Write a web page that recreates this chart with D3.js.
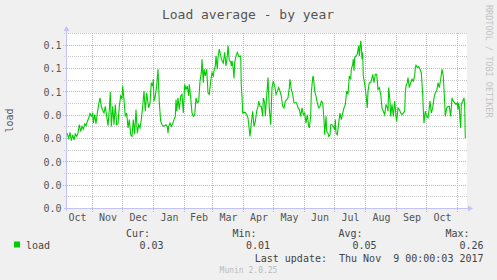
<!DOCTYPE html>
<html>
<head>
<meta charset="utf-8">
<script src="https://cdn.jsdelivr.net/npm/d3@7"></script>
<style>
  html, body { margin: 0; padding: 0; background: #f0f0f0; }
  svg { display: block; font-family: "DejaVu Sans Mono", monospace; }
  text { white-space: pre; }
</style>
</head>
<body>
<div id="chart"></div>
<script>
// Load series: [days since 2016-10-06, load]
const loadSeries = [
  [0.5,0.0323],[2.2,0.0301],[3.5,0.0326],[4.8,0.0291],[6.2,0.0316],[7.5,0.0294],[8.8,0.0320],[10.2,0.0309],[11.5,0.0323],[12.8,0.0359],
  [14.2,0.0330],[15.5,0.0352],[16.8,0.0340],[18.2,0.0363],[19.5,0.0355],[20.8,0.0373],[22.2,0.0388],[23.5,0.0407],[24.8,0.0395],[26.2,0.0407],
  [26.8,0.0366],[28.2,0.0402],[29.5,0.0363],[30.8,0.0409],[32.2,0.0446],[33.5,0.0474],[34.8,0.0438],[36.2,0.0421],[37.5,0.0409],[38.8,0.0438],
  [40.2,0.0395],[41.5,0.0355],[42.8,0.0424],[43.8,0.0499],[44.8,0.0352],[46.2,0.0438],[47.5,0.0359],[48.8,0.0446],[50.2,0.0359],[51.5,0.0363],
  [52.8,0.0438],[54.2,0.0482],[55.5,0.0470],[56.2,0.0525],[57.5,0.0467],[58.8,0.0395],[60.2,0.0409],[61.5,0.0345],[62.8,0.0381],[64.2,0.0316],
  [65.5,0.0309],[66.8,0.0381],[68.2,0.0320],[69.5,0.0424],[70.8,0.0323],[72.2,0.0359],[73.5,0.0345],[74.8,0.0381],[76.2,0.0438],[77.5,0.0503],
  [78.8,0.0417],[80.2,0.0496],
  [80.8,0.0474],[82.2,0.0431],[83.5,0.0453],[84.8,0.0539],[86.2,0.0525],[86.8,0.0554],[87.5,0.0460],[88.8,0.0482],[90.2,0.0525],[91.5,0.0597],
  [92.8,0.0453],[94.2,0.0373],[95.5,0.0359],[96.8,0.0352],[98.2,0.0355],[99.5,0.0359],[100.8,0.0352],[101.5,0.0323],[102.2,0.0352],[103.5,0.0366],
  [104.8,0.0352],[106.2,0.0363],[107.5,0.0381],[108.8,0.0395],[109.5,0.0467],[110.2,0.0417],[111.5,0.0474],[112.8,0.0424],[114.2,0.0482],[115.5,0.0489],
  [116.8,0.0409],[118.2,0.0532],[119.5,0.0510],[120.8,0.0525],[122.2,0.0482],[122.8,0.0532],[124.2,0.0474],[125.5,0.0409],[126.8,0.0395],[128.2,0.0402],
  [129.5,0.0474],[130.8,0.0453],[132.2,0.0460],[133.5,0.0546],[134.8,0.0582],[135.5,0.0640],[136.8,0.0539],[137.5,0.0597],[138.8,0.0568],[140.2,0.0597],
  [141.5,0.0496],[142.8,0.0489],[144.2,0.0546],[145.5,0.0582],[146.8,0.0568],[147.5,0.0590],[148.8,0.0611],[149.5,0.0654],[150.8,0.0597],[151.5,0.0647],
  [152.8,0.0683],[154.2,0.0654],[155.5,0.0633],[156.8,0.0623],[158.2,0.0669],[159.5,0.0611],[160.8,0.0654],
  [161.5,0.0698],[162.8,0.0633],[164.2,0.0629],[164.8,0.0611],[165.5,0.0633],[166.8,0.0597],[167.5,0.0557],[168.2,0.0626],[169.5,0.0654],[170.8,0.0669],
  [172.2,0.0652],[173.5,0.0652],[174.2,0.0654],[174.8,0.0525],[175.5,0.0482],[176.2,0.0409],[177.5,0.0412],[178.8,0.0412],[180.2,0.0402],[181.5,0.0388],
  [182.8,0.0337],[183.5,0.0309],[184.8,0.0366],[186.2,0.0417],[187.5,0.0352],[188.8,0.0373],[190.2,0.0417],[191.5,0.0438],[192.2,0.0460],[193.5,0.0438],
  [194.8,0.0438],[196.2,0.0395],[196.8,0.0474],[198.2,0.0453],[198.8,0.0395],[200.2,0.0482],[201.5,0.0561],[202.8,0.0431],[204.2,0.0359],[205.5,0.0518],
  [206.8,0.0546],[208.2,0.0525],[209.5,0.0489],[210.8,0.0503],[212.2,0.0518],[213.5,0.0503],[214.8,0.0482],[216.2,0.0438],[217.5,0.0431],[218.8,0.0460],
  [220.2,0.0467],[221.5,0.0474],[222.8,0.0518],[223.5,0.0554],[224.8,0.0510],[226.2,0.0489],[227.5,0.0453],[228.8,0.0453],[230.2,0.0453],[231.5,0.0431],
  [232.8,0.0424],[234.2,0.0395],[235.5,0.0431],[236.8,0.0402],[238.2,0.0409],[239.5,0.0366],[240.8,0.0402],[242.2,0.0352],[242.8,0.0345],
  [244.2,0.0395],[244.8,0.0496],[246.2,0.0561],[246.8,0.0568],[248.2,0.0503],[249.5,0.0482],[250.8,0.0453],[252.2,0.0431],[253.5,0.0438],[254.8,0.0460],
  [256.2,0.0453],[257.5,0.0381],[258.2,0.0316],[259.5,0.0395],[260.2,0.0330],[261.5,0.0323],[262.2,0.0309],[263.5,0.0316],[264.2,0.0359],[265.5,0.0359],
  [266.8,0.0352],[268.2,0.0337],[268.8,0.0381],[269.5,0.0323],[270.8,0.0316],[272.2,0.0366],[273.5,0.0409],[274.8,0.0381],[276.2,0.0409],[277.5,0.0431],
  [278.8,0.0446],[280.2,0.0503],[281.5,0.0489],[282.8,0.0568],[284.2,0.0554],[284.8,0.0597],[286.2,0.0618],[286.8,0.0640],[287.5,0.0590],[288.2,0.0647],
  [289.5,0.0654],[290.8,0.0662],[292.2,0.0698],[292.8,0.0654],[293.5,0.0683],[294.2,0.0719],[294.8,0.0698],[295.5,0.0640],[296.2,0.0669],[296.8,0.0568],
  [298.2,0.0532],[299.5,0.0489],[300.8,0.0431],[301.5,0.0503],[302.8,0.0539],[304.2,0.0539],[305.5,0.0561],[306.2,0.0575],[307.5,0.0539],[308.8,0.0575],
  [310.2,0.0575],[311.5,0.0510],[312.8,0.0518],[314.2,0.0489],[315.5,0.0431],[316.8,0.0417],[318.2,0.0402],[319.5,0.0446],[320.8,0.0431],[321.5,0.0417],
  [322.2,0.0518],[323.5,0.0460],[324.2,0.0395],[325.5,0.0446],[326.8,0.0395],
  [328.2,0.0460],[329.5,0.0395],[330.2,0.0373],[331.5,0.0431],[332.8,0.0424],[334.2,0.0409],[335.5,0.0402],[336.8,0.0409],[338.2,0.0417],[338.8,0.0496],
  [339.5,0.0525],[340.8,0.0539],[341.5,0.0561],[342.8,0.0518],[344.2,0.0539],[345.5,0.0554],[346.8,0.0546],[348.2,0.0568],[348.8,0.0604],[349.5,0.0614],
  [350.8,0.0604],[352.2,0.0608],[353.5,0.0597],[354.8,0.0582],[356.2,0.0489],[356.8,0.0424],[357.5,0.0366],[358.8,0.0417],[360.2,0.0395],[361.5,0.0388],
  [362.8,0.0431],[363.5,0.0460],[364.8,0.0409],[366.2,0.0431],[367.5,0.0474],[368.8,0.0496],[370.2,0.0503],[371.5,0.0539],[372.8,0.0518],[374.2,0.0554],
  [375.5,0.0597],[376.8,0.0568],[377.5,0.0510],[378.2,0.0453],[378.8,0.0395],[380.2,0.0431],[381.5,0.0438],[382.8,0.0438],[384.2,0.0395],[385.5,0.0474],
  [386.8,0.0460],[388.2,0.0453],[389.5,0.0446],[390.8,0.0453],[391.5,0.0424],[392.2,0.0453],[392.8,0.0431],[393.5,0.0381],[394.2,0.0345],[394.8,0.0446],
  [396.2,0.0460],[397.5,0.0474],[398.2,0.0438],[398.8,0.0301]
];

const monthLabels = ["Oct","Nov","Dec","Jan","Feb","Mar","Apr","May","Jun","Jul","Aug","Sep","Oct"];
const labelMonths = ["2016-10-01","2016-11-01","2016-12-01","2017-01-01","2017-02-01","2017-03-01",
                     "2017-04-01","2017-05-01","2017-06-01","2017-07-01","2017-08-01","2017-09-01","2017-10-01"];
const gridMonths = ["2016-11-01","2016-12-01","2017-01-01","2017-02-01","2017-03-01","2017-04-01",
                    "2017-05-01","2017-06-01","2017-07-01","2017-08-01","2017-09-01","2017-10-01","2017-11-01"];

const yMajorTicks = [0, 0.01, 0.02, 0.03, 0.04, 0.05, 0.06, 0.07];
const yTickLabels = ["0.0","0.0","0.0","0.0","0.0","0.1","0.1","0.1"];
const yMinorTicks = [0.005, 0.015, 0.025, 0.035, 0.045, 0.055, 0.065, 0.075];

const statNames = ["Cur:", "Min:", "Avg:", "Max:"];
const statValues = ["0.03", "0.01", "0.05", "0.26"];

const width = 497, height = 280;
const parseDay = d3.utcParse("%Y-%m-%d");
const startDate = Date.UTC(2016, 9, 6);

const x = d3.scaleUtc()
    .domain([new Date(startDate), new Date(Date.UTC(2017, 10, 10))])
    .range([66.5, 466.5]);
const y = d3.scaleLinear()
    .domain([0, 0.075])
    .range([208.5, 33.5]);

// snap to pixel centre so the dotted lines stay crisp
const snap = v => Math.round(v - 0.5) + 0.5;

const svg = d3.select("#chart").append("svg")
    .attr("width", width)
    .attr("height", height);

svg.append("rect")
    .attr("width", width).attr("height", height)
    .attr("fill", "#f0f0f0");

// plot background
svg.append("rect")
    .attr("x", 66).attr("y", 33)
    .attr("width", 401).attr("height", 176)
    .attr("fill", "#ffffff");

// minor grid
svg.append("g").selectAll("line")
    .data(yMinorTicks)
    .enter().append("line")
    .attr("x1", 64).attr("x2", 467)
    .attr("y1", d => snap(y(d))).attr("y2", d => snap(y(d)))
    .attr("stroke", "#c8c8c8")
    .attr("stroke-dasharray", "1,1")
    .attr("shape-rendering", "crispEdges");

// major grid, horizontal
svg.append("g").selectAll("line")
    .data(yMajorTicks.slice(1))
    .enter().append("line")
    .attr("x1", 63).attr("x2", 467)
    .attr("y1", d => snap(y(d))).attr("y2", d => snap(y(d)))
    .attr("stroke", "#f3a0a0")
    .attr("stroke-dasharray", "1,1")
    .attr("shape-rendering", "crispEdges");

// major grid, month boundaries
svg.append("g").selectAll("line")
    .data(gridMonths.map(parseDay))
    .enter().append("line")
    .attr("x1", d => snap(x(d))).attr("x2", d => snap(x(d)))
    .attr("y1", 33).attr("y2", 212)
    .attr("stroke", "#f3a0a0")
    .attr("stroke-dasharray", "1,1")
    .attr("shape-rendering", "crispEdges");

// axes lines + arrows
const axisColor = "#c4c4f4";
svg.append("line")
    .attr("x1", 64).attr("x2", 469)
    .attr("y1", 208.5).attr("y2", 208.5)
    .attr("stroke", axisColor).attr("shape-rendering", "crispEdges");
svg.append("path")
    .attr("d", "M468,205.5 L473,208.5 L468,211.5 Z")
    .attr("fill", axisColor);
svg.append("line")
    .attr("x1", 66.5).attr("x2", 66.5)
    .attr("y1", 211).attr("y2", 30)
    .attr("stroke", axisColor).attr("shape-rendering", "crispEdges");
svg.append("path")
    .attr("d", "M63.5,31 L66.5,26 L69.5,31 Z")
    .attr("fill", axisColor);

// the load line
const line = d3.line()
    .x(d => x(new Date(startDate + d[0] * 864e5)))
    .y(d => y(d[1]));

svg.append("path")
    .datum(loadSeries)
    .attr("d", line)
    .attr("fill", "none")
    .attr("stroke", "#00cc00")
    .attr("stroke-width", 1.1);

// y tick labels
const yAxis = d3.axisLeft(y)
    .tickValues(yMajorTicks)
    .tickFormat((d, i) => yTickLabels[i])
    .tickSize(0)
    .tickPadding(5);
const gy = svg.append("g")
    .attr("transform", "translate(66.5,0)")
    .call(yAxis);
gy.select(".domain").remove();
gy.selectAll("text")
    .attr("fill", "#555")
    .style("font-family", "DejaVu Sans Mono")
    .style("font-size", "10px");

// month labels, centred in each month
const monthMids = labelMonths.map(s => {
    const a = parseDay(s);
    const b = d3.utcMonth.offset(a, 1);
    return new Date((a.getTime() + b.getTime()) / 2);
});
const xAxis = d3.axisBottom(x)
    .tickValues(monthMids)
    .tickFormat((d, i) => monthLabels[i])
    .tickSize(0)
    .tickPadding(5);
const gx = svg.append("g")
    .attr("transform", "translate(0,208.5)")
    .call(xAxis);
gx.select(".domain").remove();
gx.selectAll("text")
    .attr("fill", "#555")
    .style("font-family", "DejaVu Sans Mono")
    .style("font-size", "10px");

// title
svg.append("text")
    .attr("x", 248)
    .attr("y", 18.5)
    .attr("text-anchor", "middle")
    .style("font-size", "13px")
    .attr("fill", "#555")
    .text("Load average - by year");

// vertical axis label
svg.append("text")
    .attr("transform", "translate(9.5,120.5) rotate(-90)")
    .attr("text-anchor", "middle")
    .attr("dy", "0.35em")
    .style("font-size", "10px")
    .attr("fill", "#555")
    .text("load");

// watermark
svg.append("text")
    .attr("transform", "translate(488.5,5) rotate(90)")
    .attr("dy", "0.35em")
    .style("font-size", "8.5px")
    .attr("fill", "#c4c4c4")
    .text("RRDTOOL / TOBI OETIKER");

// legend
const headX = [150, 256.5, 362.5, 469.5];
const valX = [163.5, 270, 376.5, 483.5];

svg.append("g").selectAll("text")
    .data(statNames)
    .enter().append("text")
    .attr("x", (d, i) => headX[i])
    .attr("y", 237)
    .attr("text-anchor", "end")
    .style("font-size", "10px")
    .attr("fill", "#444")
    .text(d => d);

svg.append("rect")
    .attr("x", 14).attr("y", 241.5)
    .attr("width", 6).attr("height", 6)
    .attr("fill", "#00cc00");

svg.append("text")
    .attr("x", 26).attr("y", 249)
    .style("font-size", "10px")
    .attr("fill", "#444")
    .text("load");

svg.append("g").selectAll("text")
    .data(statValues)
    .enter().append("text")
    .attr("x", (d, i) => valX[i])
    .attr("y", 249)
    .attr("text-anchor", "end")
    .style("font-size", "10px")
    .attr("fill", "#444")
    .text(d => d);

svg.append("text")
    .attr("x", 483.5).attr("y", 261.5)
    .attr("text-anchor", "end")
    .style("font-size", "10px")
    .attr("fill", "#444")
    .text("Last update:  Thu Nov  9 00:00:03 2017");

svg.append("text")
    .attr("x", 248.5).attr("y", 272.5)
    .attr("text-anchor", "middle")
    .style("font-size", "8px")
    .attr("fill", "#bbbbbb")
    .text("Munin 2.0.25");
</script>
</body>
</html>
